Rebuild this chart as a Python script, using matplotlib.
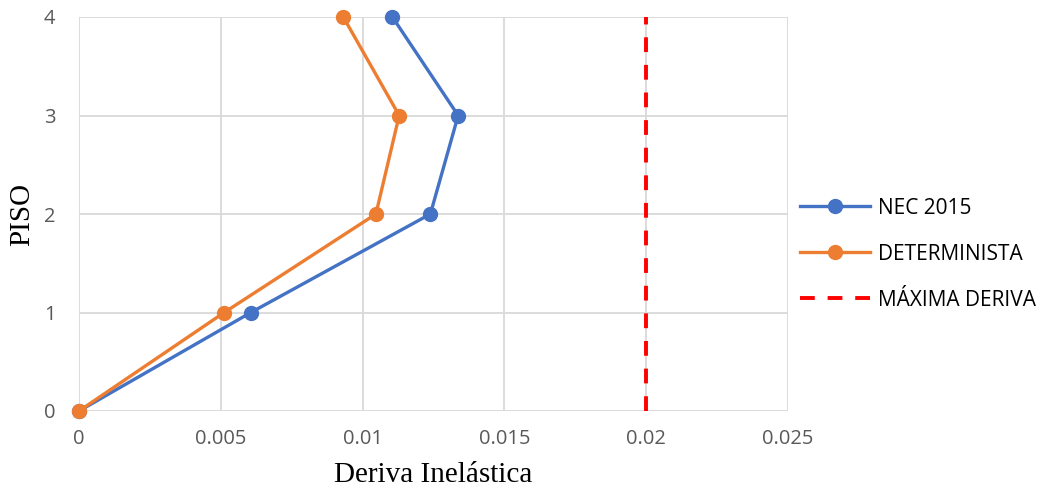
import matplotlib
matplotlib.use("Agg")
import matplotlib.pyplot as plt
from matplotlib.lines import Line2D

# Drift profiles per storey
pisos = [0, 1, 2, 3, 4]
nec_2015 = [0, 0.00606, 0.01239, 0.01337, 0.01105]
determinista = [0, 0.00512, 0.01047, 0.01129, 0.00932]
maxima_deriva = 0.02

x_ticks = [0, 0.005, 0.01, 0.015, 0.02, 0.025]
x_tick_labels = ["0", "0.005", "0.01", "0.015", "0.02", "0.025"]
y_ticks = [0, 1, 2, 3, 4]

blue = "#4472C4"
orange = "#ED7D31"
red = "#FF0000"
grid_c = "#D9D9D9"
tick_c = "#595959"
tick_font = ["Open Sans", "DejaVu Sans"]
title_font = ["Liberation Serif", "DejaVu Serif"]
dash = (0, (3.8, 3.3))

fig = plt.figure(figsize=(10.51, 4.92), dpi=100)
ax = fig.add_axes([79 / 1051, 1 - 411 / 492, (788 - 79) / 1051, (411 - 17) / 492])

ax.plot(nec_2015, pisos, color=blue, lw=2.4, marker="o", ms=10, zorder=4, clip_on=False)
ax.plot(determinista, pisos, color=orange, lw=2.4, marker="o", ms=10, zorder=5, clip_on=False)
ax.plot([maxima_deriva, maxima_deriva], [pisos[0], pisos[-1]], color=red, lw=2.8,
        ls=dash, zorder=3, clip_on=False)

ax.set_xlim(0, 0.025)
ax.set_ylim(0, 4)
ax.set_xticks(x_ticks)
ax.set_xticklabels(x_tick_labels)
ax.set_yticks(y_ticks)
ax.grid(True, color=grid_c, lw=1.3, zorder=0)
ax.set_axisbelow(True)
for s in ax.spines.values():
    s.set_visible(False)
ax.tick_params(length=0, labelsize=14.5, colors=tick_c)
for lab in ax.get_xticklabels() + ax.get_yticklabels():
    lab.set_family(tick_font)
ax.tick_params(axis="x", pad=13)
ax.tick_params(axis="y", pad=17)

ax.set_xlabel("Deriva Inelástica", family=title_font, fontsize=21, color="black", labelpad=9)
ax.set_ylabel("PISO", family=title_font, fontsize=21, color="black", labelpad=6)

handles = [
    Line2D([], [], color=blue, lw=2.4, marker="o", ms=10),
    Line2D([], [], color=orange, lw=2.4, marker="o", ms=10),
    Line2D([], [], color=red, lw=2.8, ls=dash),
]
labels = ["NEC 2015", "DETERMINISTA", "MÁXIMA DERIVA"]
leg = fig.legend(handles, labels, loc="center left", bbox_to_anchor=(781 / 1051, 1 - 254 / 492),
                 frameon=False, handlelength=3.35, handletextpad=0.4, labelspacing=1.2,
                 prop={"family": tick_font, "size": 15})
for t in leg.get_texts():
    t.set_color("black")

fig.savefig("out.png", dpi=100, facecolor="white")
